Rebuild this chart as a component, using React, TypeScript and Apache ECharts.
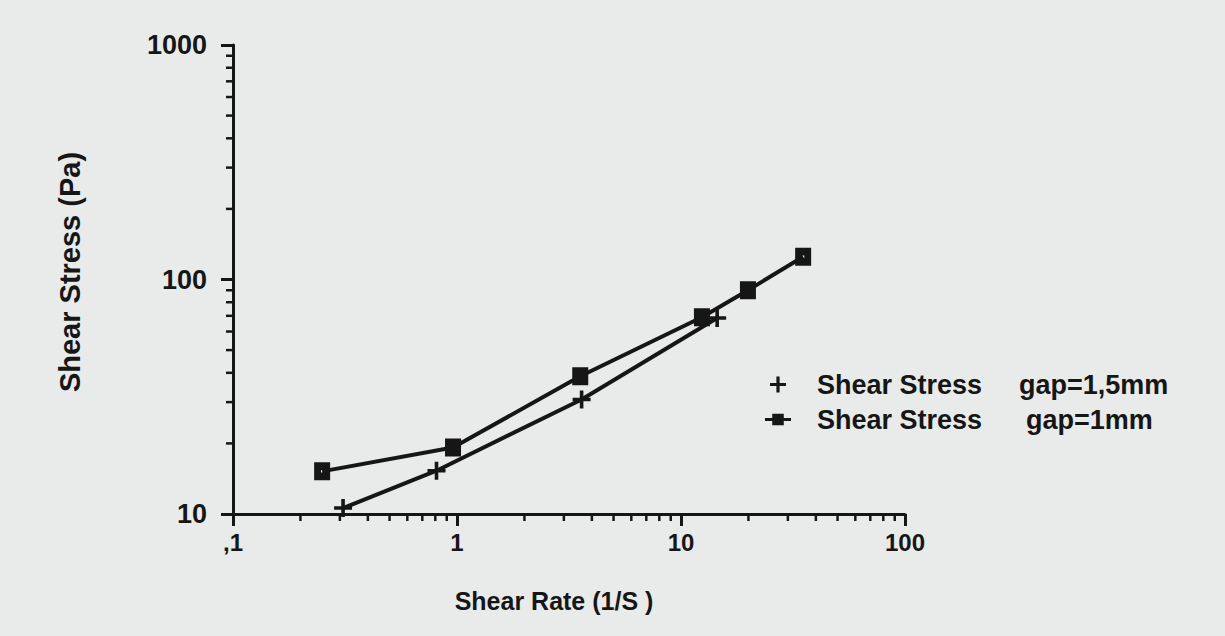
import React, { useEffect, useRef } from "react";
import * as echarts from "echarts";

// ---- data ----
const plusName = "Shear Stress gap=1,5mm";
const squareName = "Shear Stress gap=1mm";
const plusRate = [0.31, 0.81, 3.6, 14.5];
const plusStress = [10.6, 15.3, 30.8, 68.5];
const squareRate = [0.25, 0.96, 3.55, 12.4, 19.9, 35.1];
const squareStress = [15.2, 19.2, 38.7, 69, 90, 125];

const xMin = 0.1;
const xMax = 100;
const yMin = 10;
const yMax = 1000;
const xMinorTicks = [0.2, 0.3, 0.4, 0.5, 0.6, 0.7, 0.8, 0.9, 2, 3, 4, 5, 6, 7, 8, 9, 20, 30, 40, 50, 60, 70, 80, 90];
const yMinorTicks = [20, 30, 40, 50, 60, 70, 80, 90, 200, 300, 400, 500, 600, 700, 800, 900];

const xTitle = "Shear Rate (1/S )";
const yTitle = "Shear Stress (Pa)";

const INK = "#161616";
const FONT = "'Liberation Sans', Arial, sans-serif";
const PLUS = "path://M4,0h2v4h4v2h-4v4h-2v-4h-4v-2h4z";
const SQUARE = "path://M0,0H10V10H0Z M4.3,4.3V5.7H5.7V4.3Z";
const SQUARE_LINE = "path://M0,4h5v-3h8v3h5v2h-5v3h-8v-3h-5z";

export default function App() {
  const ref = useRef<HTMLDivElement>(null);

  useEffect(() => {
    if (!ref.current) return;
    const chart = echarts.init(ref.current, null, { renderer: "svg" });

    const option: any = {
      animation: false,
      backgroundColor: "#e8ebe9",
      textStyle: { fontFamily: FONT, color: INK },
      grid: { left: 233, top: 45, right: 320, bottom: 122, containLabel: false },
      xAxis: {
        type: "log",
        logBase: 10,
        min: xMin,
        max: xMax,
        splitLine: { show: false },
        axisLine: { show: true, onZero: false, lineStyle: { color: INK, width: 3 } },
        axisTick: { show: true, length: 12, lineStyle: { color: INK, width: 3 } },
        axisLabel: {
          margin: 16,
          fontSize: 24,
          fontWeight: "bold",
          color: INK,
          fontFamily: FONT,
          formatter: (v: number) => (Math.abs(v - 0.1) < 1e-9 ? ",1" : String(Math.round(v))),
        },
      },
      yAxis: {
        type: "log",
        logBase: 10,
        min: yMin,
        max: yMax,
        splitLine: { show: false },
        axisLine: { show: true, onZero: false, lineStyle: { color: INK, width: 3 } },
        axisTick: { show: true, length: 12, lineStyle: { color: INK, width: 3 } },
        axisLabel: {
          margin: 26,
          fontSize: 27,
          fontWeight: "bold",
          color: INK,
          fontFamily: FONT,
          formatter: (v: number) => String(Math.round(v)),
        },
      },
      legend: {
        orient: "vertical",
        left: 760,
        top: 366,
        itemWidth: 26,
        itemHeight: 16,
        itemGap: 8,
        selectedMode: false,
        data: [
          { name: plusName, icon: PLUS },
          { name: squareName, icon: SQUARE_LINE },
        ],
        formatter: (name: string) => {
          const i = name.indexOf("gap=");
          const a = name.slice(0, i).trim();
          const b = name.slice(i);
          return name === squareName ? `{a|${a}}{c|${b}}` : `{a|${a}}{b|${b}}`;
        },
        textStyle: {
          color: INK,
          fontFamily: FONT,
          rich: {
            a: { fontSize: 27, fontWeight: "bold", fontFamily: FONT, color: INK, width: 202, padding: [0, 0, 0, 21], lineHeight: 28 },
            b: { fontSize: 27, fontWeight: "bold", fontFamily: FONT, color: INK, lineHeight: 28 },
            c: { fontSize: 27, fontWeight: "bold", fontFamily: FONT, color: INK, lineHeight: 28, padding: [0, 0, 0, 7] },
          },
        },
      },
      graphic: [
        {
          type: "text",
          x: 554,
          y: 601,
          style: {
            text: xTitle,
            font: `bold 25px ${FONT}`,
            fill: INK,
            textAlign: "center",
            textVerticalAlign: "middle",
          },
        },
        {
          type: "text",
          x: 70,
          y: 272,
          rotation: Math.PI / 2,
          style: {
            text: yTitle,
            font: `bold 29px ${FONT}`,
            fill: INK,
            textAlign: "center",
            textVerticalAlign: "middle",
          },
        },
      ],
      series: [
        {
          name: plusName,
          type: "line",
          data: plusRate.map((x, i) => [x, plusStress[i]]),
          symbol: PLUS,
          symbolSize: 18,
          showAllSymbol: true,
          lineStyle: { color: INK, width: 4 },
          itemStyle: { color: INK, borderWidth: 0 },
          z: 3,
        },
        {
          name: squareName,
          type: "line",
          data: squareRate.map((x, i) => [x, squareStress[i]]),
          symbol: SQUARE,
          symbolSize: [16, 18],
          showAllSymbol: true,
          lineStyle: { color: INK, width: 4 },
          itemStyle: { color: INK, borderWidth: 0 },
          z: 4,
        },
        {
          name: "xMinor",
          type: "custom",
          clip: false,
          silent: true,
          data: xMinorTicks.map((v) => [v, yMin]),
          renderItem: (_p: any, api: any) => {
            const pt = api.coord([api.value(0), yMin]);
            return {
              type: "line",
              shape: { x1: pt[0], y1: pt[1], x2: pt[0], y2: pt[1] + 7 },
              style: { stroke: INK, lineWidth: 2.5 },
            };
          },
          z: 2,
        },
        {
          name: "yMinor",
          type: "custom",
          clip: false,
          silent: true,
          data: yMinorTicks.map((v) => [xMin, v]),
          renderItem: (_p: any, api: any) => {
            const pt = api.coord([xMin, api.value(1)]);
            return {
              type: "line",
              shape: { x1: pt[0], y1: pt[1], x2: pt[0] - 7, y2: pt[1] },
              style: { stroke: INK, lineWidth: 2.5 },
            };
          },
          z: 2,
        },
      ],
    };

    chart.setOption(option);
    return () => chart.dispose();
  }, []);

  return (
    <div
      ref={ref}
      style={{ position: "fixed", left: 0, top: 0, width: 1225, height: 636 }}
    />
  );
}
